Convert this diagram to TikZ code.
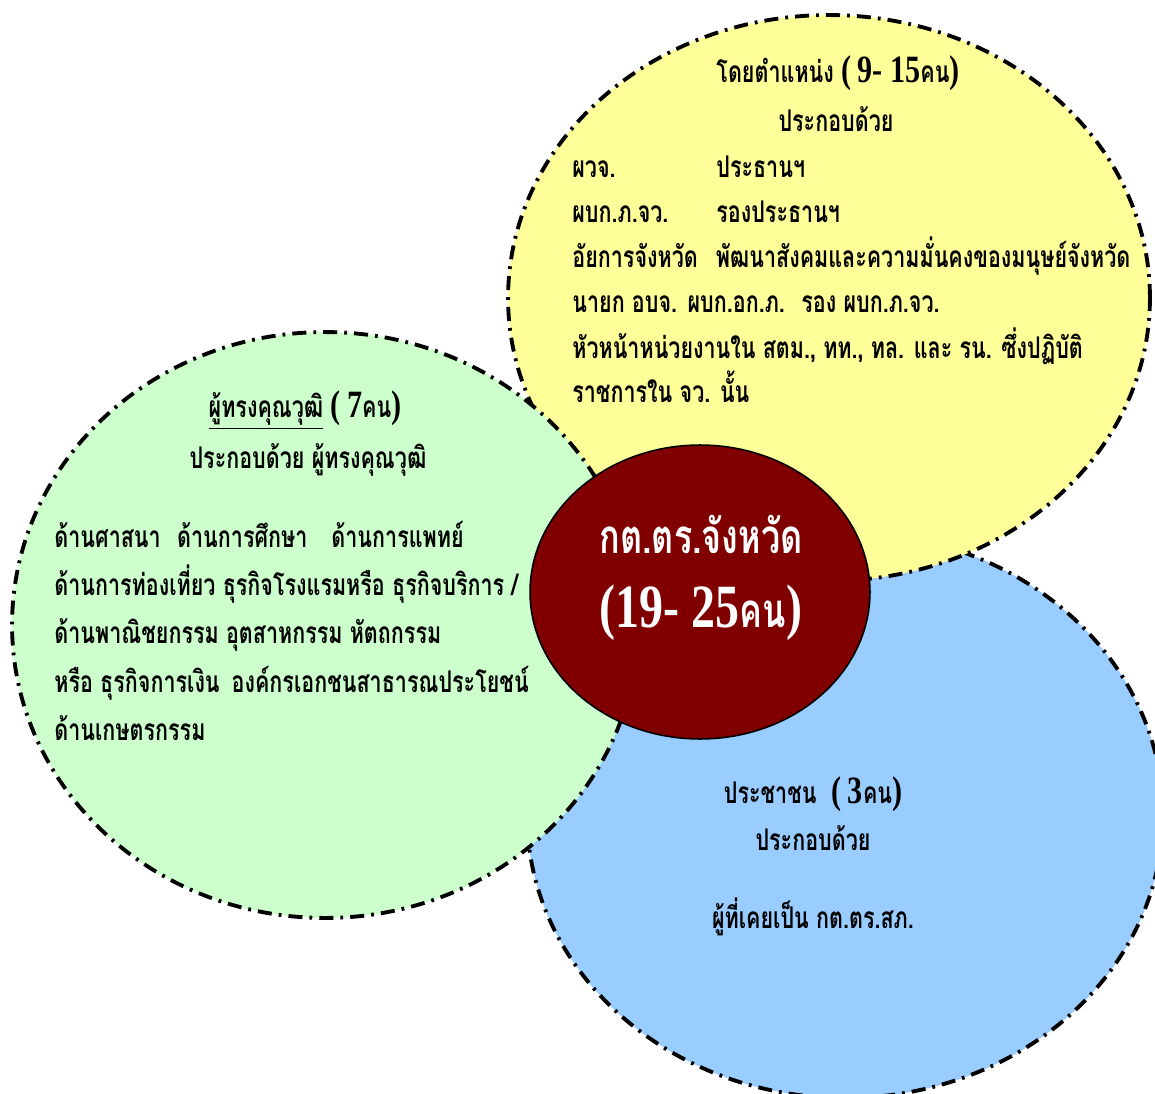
\documentclass[tikz,border=0pt]{standalone}
\usepackage{fontspec}
\newfontfamily\thaifont[Script=Thai,FakeStretch=0.72]{Loma}
\newfontfamily\digitfont[FakeStretch=0.78]{Liberation Serif}
\usetikzlibrary{shapes.geometric}

\definecolor{yellowfill}{HTML}{FFFF99}
\definecolor{greenfill}{HTML}{CCFFCC}
\definecolor{bluefill}{HTML}{99CCFF}
\definecolor{boardred}{HTML}{800000}

% digits and brackets are set taller than the Thai text
\newcommand{\lat}[1]{{\digitfont\fontsize{22}{24}\selectfont #1}}
\newcommand{\biglat}[1]{{\digitfont\fontsize{35}{38}\selectfont #1}}

\tikzset{
  group/.style={ellipse, draw=black, line width=2.2pt,
    dash pattern=on 8pt off 4pt on 1.6pt off 4pt},
  txt/.style={anchor=base west, inner sep=0pt,
    font={\thaifont\bfseries\fontsize{17}{20}\selectfont}},
  ctxt/.style={txt, anchor=base},
  bigtxt/.style={anchor=base, inner sep=0pt, text=white,
    font={\thaifont\bfseries\fontsize{27}{32}\selectfont}},
}

\begin{document}
\begin{tikzpicture}[x=0.02cm,y=-0.02cm]
\useasboundingbox (0,0) rectangle (1155,1094);
\clip (0,0) rectangle (1155,1094);

% the three groups
\node[group, fill=bluefill, minimum width=12.72cm, minimum height=11.32cm] (people) at (845,815) {};
\node[group, fill=yellowfill, minimum width=12.84cm, minimum height=11.32cm] (position) at (829,298) {};
\node[group, fill=greenfill, minimum width=12.52cm, minimum height=11.72cm] (expert) at (325,625) {};
\node[ellipse, draw=black, line width=0.9pt, fill=boardred, minimum width=6.8cm, minimum height=5.88cm] (board) at (700,592) {};

% by position
\node[ctxt] (posTitle) at (838,83) {โดยตำแหน่ง \lat{(\,9- 15}คน\lat{)}};
\node[ctxt] (posSub) at (836,132) {ประกอบด้วย};
\node[txt] (pos1) at (572,178) {ผวจ.};
\node[txt] (pos1r) at (716,178) {ประธานฯ};
\node[txt] (pos2) at (572,223) {ผบก.ภ.จว.};
\node[txt] (pos2r) at (716,223) {รองประธานฯ};
\node[txt] (pos3) at (572,268) {อัยการจังหวัด\hspace{0.6em}พัฒนาสังคมและความมั่นคงของมนุษย์จังหวัด};
\node[txt] (pos4) at (572,313) {นายก อบจ.\hspace{0.35em}ผบก.อก.ภ.\hspace{0.55em}รอง ผบก.ภ.จว.};
\node[txt] (pos5) at (572,358) {หัวหน้าหน่วยงานใน สตม., ทท., ทล. และ รน. ซึ่งปฏิบัติ};
\node[txt] (pos6) at (572,402) {ราชการใน จว. นั้น};

% experts
\node[ctxt] (expTitle) at (305,418) {\underline{ผู้ทรงคุณวุฒิ} \lat{(\,7}คน\lat{)}};
\node[ctxt] (expSub) at (308,468) {ประกอบด้วย ผู้ทรงคุณวุฒิ};
\node[txt] (exp1) at (54,547) {ด้านศาสนา\hspace{0.55em}ด้านการศึกษา\hspace{0.8em}ด้านการแพทย์};
\node[txt] (exp2) at (54,595) {ด้านการท่องเที่ยว ธุรกิจโรงแรมหรือ ธุรกิจบริการ /};
\node[txt] (exp3) at (54,643) {ด้านพาณิชยกรรม อุตสาหกรรม หัตถกรรม};
\node[txt] (exp4) at (54,692) {หรือ ธุรกิจการเงิน\hspace{0.4em}องค์กรเอกชนสาธารณประโยชน์};
\node[txt] (exp5) at (54,740) {ด้านเกษตรกรรม};

% people
\node[ctxt] (pplTitle) at (813,803) {ประชาชน\hspace{0.5em}\lat{(\,3}คน\lat{)}};
\node[ctxt] (pplSub) at (813,850) {ประกอบด้วย};
\node[ctxt] (ppl1) at (813,928) {ผู้ที่เคยเป็น กต.ตร.สภ.};

% board
\node[bigtxt] (boardName) at (701,553) {กต.ตร.จังหวัด};
\node[bigtxt] (boardSize) at (701,627) {\biglat{(19- 25}คน\biglat{)}};
\end{tikzpicture}
\end{document}
